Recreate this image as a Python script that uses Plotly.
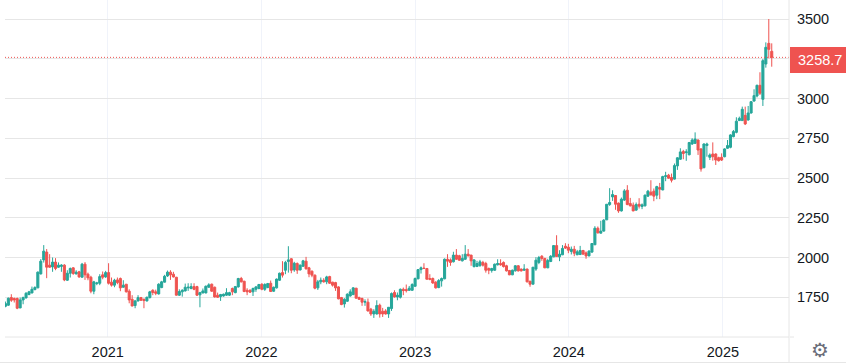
import pandas as pd
import plotly.graph_objects as go

opens = [1693,1700,1748,1742,1742,1683,1733,1746,1767,1777,
1798,1809,1897,1985,2034,1952,1941,1971,1939,1944,
1952,1857,1901,1935,1897,1910,1876,1958,1895,1876,
1788,1836,1838,1891,1878,1905,1845,1826,1859,1868,
1813,1832,1788,1737,1698,1727,1748,1737,1727,1748,
1794,1784,1771,1811,1845,1884,1908,1895,1876,1763,
1784,1790,1809,1805,1817,1817,1765,1777,1777,1813,
1832,1813,1763,1754,1758,1763,1763,1805,1779,1815,
1868,1851,1794,1794,1784,1800,1805,1832,1800,1811,
1838,1788,1809,1857,1905,1920,1975,1992,1922,1962,
1922,1945,1977,1935,1914,1889,1809,1847,1857,1847,
1880,1845,1842,1815,1748,1708,1725,1758,1767,1807,
1748,1742,1719,1719,1675,1645,1645,1700,1662,1664,
1645,1679,1780,1752,1750,1800,1798,1794,1794,1819,
1866,1924,1933,1931,1868,1868,1845,1811,1853,1866,
1989,1985,1973,2015,2011,1979,1989,2021,2015,1943,
1943,1948,1969,1962,1931,1918,1920,1954,1962,1969,
1948,1918,1891,1916,1948,1927,1920,1927,
1851,1832,1927,1969,2008,1994,1935,1975,2004,2075,
2004,2017,2071,2065,2038,2052,2017,2019,2044,2029,
2010,2034,2080,2184,2153,2166,2237,2333,2381,2390,
2342,2293,2361,2423,2340,2329,2298,2335,2321,2325,
2386,2411,2417,2392,2440,2425,2509,2518,2503,2493,
2576,2618,2667,2660,2646,2714,2718,2739,2683,2565,
2704,2630,2651,2651,2628,2630,2634,2687,2693,2760,
2787,2861,2861,2894,2865,2909,2984,3016,3083,2995,
3217,3347,3297]

highs = [1723,1748,1769,1748,1748,1748,1754,1782,1790,1817,
1819,1912,1990,2078,2053,2021,2000,1996,1969,1958,
1958,1920,1937,1939,1920,1916,1966,1971,1905,1885,
1853,1847,1895,1912,1916,1964,1874,1866,1874,1874,
1857,1832,1800,1763,1733,1763,1752,1742,1754,1790,
1800,1798,1838,1853,1891,1918,1920,1910,1878,1800,
1800,1836,1838,1838,1838,1822,1784,1805,1824,1838,
1836,1817,1779,1771,1773,1807,1784,1811,1821,1872,
1878,1853,1807,1800,1811,1821,1834,1838,1838,1840,
1855,1817,1868,1905,1977,1979,2071,1996,1973,1969,
1956,1985,2004,1941,1918,1893,1859,1874,1870,1885,
1885,1847,1847,1819,1752,1744,1775,1800,1813,1809,
1754,1748,1737,1742,1683,1675,1731,1710,1683,1675,
1687,1780,1794,1780,1805,1811,1830,1821,1838,1874,
1927,1943,1964,1933,1895,1874,1851,1864,1874,1994,
2021,1994,2036,2053,2017,2021,2078,2053,2017,1989,
1979,1985,1979,1973,1937,1935,1962,1989,1989,1975,
1954,1922,1924,1952,1952,1931,1958,1931,
1853,1939,2002,2010,2015,1998,1992,2015,2078,2140,
2046,2078,2090,2086,2069,2073,2048,2073,2048,2038,
2046,2090,2197,2195,2231,2241,2335,2436,2423,2392,
2346,2377,2430,2455,2375,2346,2346,2373,2340,2396,
2425,2486,2434,2451,2469,2514,2539,2526,2528,2591,
2631,2687,2677,2681,2727,2750,2787,2743,2687,2718,
2722,2655,2724,2655,2634,2655,2687,2739,2775,2802,
2882,2886,2949,2949,2953,2984,3058,3087,3165,3248,
3353,3500,3347]

lows = [1687,1696,1721,1717,1675,1681,1706,1742,1763,1775,
1794,1807,1893,1968,1870,1935,1910,1920,1935,1910,
1851,1853,1874,1891,1893,1872,1874,1859,1857,1775,
1769,1826,1826,1863,1872,1830,1817,1813,1832,1788,
1811,1780,1712,1693,1681,1723,1727,1681,1723,1742,
1763,1763,1767,1807,1843,1878,1859,1874,1761,1758,
1754,1786,1790,1800,1794,1758,1687,1775,1775,1809,
1784,1748,1746,1727,1754,1758,1758,1763,1775,1811,
1843,1782,1763,1777,1758,1784,1800,1794,1790,1807,
1784,1784,1805,1853,1874,1895,1905,1901,1910,1897,
1918,1941,1924,1876,1876,1800,1796,1832,1842,1832,
1834,1817,1790,1737,1700,1685,1721,1754,1763,1742,
1733,1696,1696,1660,1633,1620,1641,1622,1626,1641,
1620,1664,1748,1731,1742,1763,1780,1790,1790,1817,
1863,1899,1927,1863,1857,1834,1805,1807,1817,1863,
1941,1948,1969,1985,1979,1975,1985,2006,1948,1937,
1941,1943,1943,1905,1895,1905,1916,1950,1948,1937,
1912,1889,1889,1912,1912,1912,1916,1843,
1816,1832,1916,1958,1979,1933,1933,1971,2002,2004,
1977,2015,2054,2027,2019,2008,2015,2015,2019,1992,
2008,2029,2078,2151,2151,2163,2235,2325,2356,2300,
2281,2289,2356,2329,2321,2291,2293,2308,2304,2321,
2381,2390,2354,2367,2367,2423,2480,2495,2472,2490,
2551,2614,2618,2608,2643,2708,2714,2645,2540,2561,
2634,2613,2609,2582,2603,2607,2630,2683,2687,2756,
2781,2859,2859,2833,2861,2905,2980,3007,3022,2953,
3194,3253,3200]

closes = [1710,1744,1731,1733,1681,1733,1748,1775,1784,1800,
1811,1908,1977,2040,1939,1939,1971,1931,1952,1952,
1859,1901,1931,1899,1908,1878,1958,1891,1872,1788,
1847,1840,1880,1876,1905,1838,1826,1857,1842,1809,
1826,1784,1733,1695,1727,1748,1731,1729,1750,1784,
1780,1775,1832,1847,1882,1908,1891,1878,1763,1786,
1794,1813,1813,1817,1800,1763,1779,1790,1819,1828,
1788,1752,1750,1767,1769,1779,1779,1784,1817,1868,
1847,1786,1784,1782,1805,1815,1830,1800,1830,1836,
1786,1813,1864,1901,1889,1969,1985,1920,1964,1920,
1952,1979,1929,1897,1889,1807,1847,1857,1847,1878,
1838,1826,1809,1740,1704,1737,1769,1784,1809,1744,
1737,1719,1723,1664,1645,1662,1698,1645,1645,1645,
1687,1773,1752,1763,1800,1792,1792,1807,1830,1868,
1924,1935,1931,1863,1863,1840,1809,1855,1868,1989,
1977,1969,2015,1989,1983,1994,2021,2011,1979,1985,
1962,1973,1952,1920,1920,1931,1958,1962,1954,1943,
1916,1891,1920,1948,1916,1916,1927,1847,
1832,1939,1983,2000,1994,1935,1981,2008,2075,2006,
2021,2057,2059,2046,2052,2027,2036,2044,2021,2010,
2040,2088,2184,2155,2166,2235,2335,2346,2396,2335,
2293,2367,2419,2333,2325,2293,2333,2323,2331,2392,
2417,2394,2386,2446,2430,2509,2514,2499,2486,2578,
2627,2664,2654,2664,2723,2739,2745,2676,2557,2714,
2714,2645,2634,2613,2609,2613,2683,2704,2771,2792,
2857,2875,2932,2840,2909,2980,3018,3083,3033,3238,
3322,3309,3258.7]

assert len(opens) == len(highs) == len(lows) == len(closes) == 261
dates = pd.date_range("2020-05-03", periods=len(opens), freq="7D")

y_ticks = [1750, 2000, 2250, 2500, 2750, 3000, 3250, 3500]
y_tick_labels = ["1750", "2000", "2250", "2500", "2750", "3000", "", "3500"]
x_tick_dates = ["2021-01-01", "2022-01-01", "2023-01-01", "2024-01-01", "2025-01-01"]
x_tick_labels = ["2021", "2022", "2023", "2024", "2025"]
last_price = closes[-1]

UP, DOWN = "#26a69a", "#ef5350"
FONT = "Liberation Sans"
L, R, B = 5, 789, 337  # pane edges in pixels
W = R - L

def px(x):
    return (x - L) / W

def py(y):
    return (B - y) / B

fig = go.Figure(go.Candlestick(
    x=dates, open=opens, high=highs, low=lows, close=closes,
    increasing=dict(line=dict(color=UP, width=1), fillcolor=UP),
    decreasing=dict(line=dict(color=DOWN, width=1), fillcolor=DOWN),
    whiskerwidth=0, hoverinfo="skip", showlegend=False,
))

line = dict(color="#e6e6e6", width=1)
fig.update_layout(
    width=846, height=364, autosize=False,
    margin=dict(l=L, r=846 - R, t=0, b=364 - B),
    paper_bgcolor="#ffffff", plot_bgcolor="#ffffff",
    font=dict(family=FONT, size=14.5, color="#131722"),
    showlegend=False,
    boxgap=0.3, boxgroupgap=0,
    xaxis=dict(
        type="date", range=["2020-05-02", "2025-06-07"],
        rangeslider=dict(visible=False),
        tickmode="array", tickvals=x_tick_dates, ticktext=x_tick_labels,
        showgrid=True, gridcolor="#f0f3fa", gridwidth=1,
        zeroline=False, showline=False, ticks="outside", ticklen=2,
        tickcolor="rgba(0,0,0,0)", tickfont=dict(size=14.5, family=FONT, color="#131722"),
    ),
    yaxis=dict(
        side="right", range=[1500, 3619.5],
        tickmode="array", tickvals=y_ticks, ticktext=y_tick_labels,
        showgrid=True, gridcolor="#e6e6e6", gridwidth=1,
        zeroline=False, showline=False, ticks="outside", ticklen=4,
        tickcolor="rgba(0,0,0,0)", tickfont=dict(size=14.5, family=FONT, color="#131722"),
    ),
    shapes=[
        dict(type="line", xref="paper", yref="y", x0=0, x1=1, y0=last_price, y1=last_price,
             line=dict(color=DOWN, width=1, dash="1px,2px"), layer="above"),
        dict(type="line", xref="paper", yref="paper", x0=0, x1=1, y0=0, y1=0, line=line),
        dict(type="line", xref="paper", yref="paper", x0=px(790), x1=px(794), y0=0, y1=0, line=line),
        dict(type="line", xref="paper", yref="paper", x0=1, x1=1, y0=py(363), y1=1, line=line),
        dict(type="line", xref="paper", yref="paper", x0=px(0), x1=px(846), y0=py(362.5), y1=py(362.5), line=line),
        dict(type="rect", xref="paper", yref="paper", x0=px(790), x1=px(846),
             y0=py(73), y1=py(47), fillcolor=DOWN, line=dict(width=0)),
    ],
    annotations=[
        dict(xref="paper", yref="paper", x=px(819.5), y=py(60), xanchor="center", yanchor="middle",
             text=f"{last_price}", showarrow=False, font=dict(color="#ffffff", size=14.5, family=FONT)),
        dict(xref="paper", yref="paper", x=px(820), y=py(350), xanchor="center", yanchor="middle",
             text="⚙", showarrow=False, font=dict(color="#6a6d78", size=20, family="DejaVu Sans")),
    ],
)

fig.write_html("out.html", config=dict(displayModeBar=False),
               post_script="document.body.style.margin='0';document.body.style.overflow='hidden';")
